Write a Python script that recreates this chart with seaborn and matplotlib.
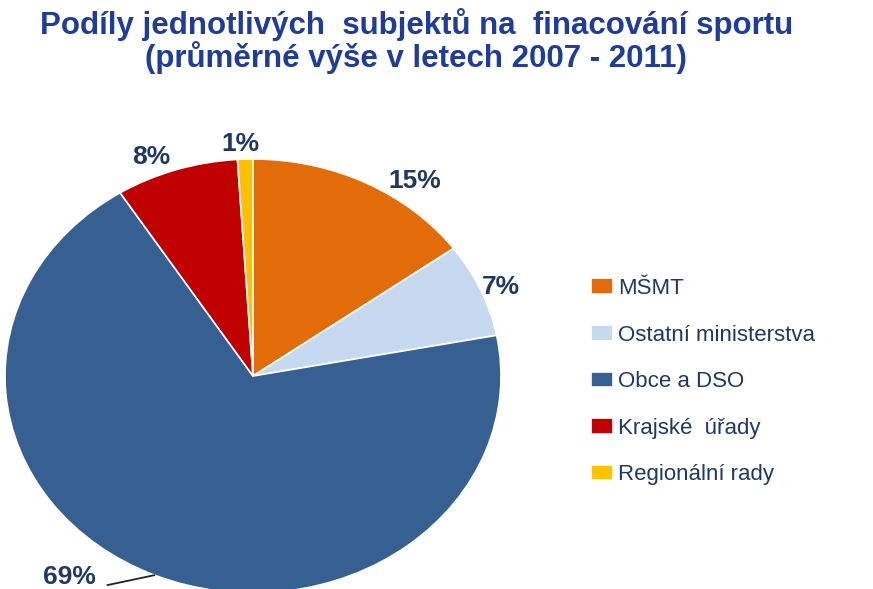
import numpy as np
import matplotlib
matplotlib.use("Agg")
import matplotlib.pyplot as plt
import seaborn as sns

categories = ["MŠMT", "Ostatní ministerstva", "Obce a DSO", "Krajské  úřady", "Regionální rady"]
shares = [15, 7, 69, 8, 1]
pct_labels = ["15%", "7%", "69%", "8%", "1%"]
colors = ["#E36C0A", "#C6D9F1", "#376092", "#C00000", "#FFC000"]

sns.set_style("white")
plt.rcParams["font.family"] = ["Liberation Sans", "DejaVu Sans"]

label_color = "#1F3864"
title_color = "#1F3C99"

fig = plt.figure(figsize=(8.73, 5.89), dpi=100)
# pie is drawn as a slightly flattened ellipse, like the original
ax = fig.add_axes([5 / 873, -4 / 589, 496 / 873, 434 / 589])
wedges, _ = ax.pie(shares, colors=colors, startangle=90, counterclock=False,
                   wedgeprops=dict(edgecolor="white", linewidth=1.2))
ax.set_aspect("auto")
ax.set_xlim(-1, 1)
ax.set_ylim(-1, 1)

# percentage labels outside the slices (angle shift, radial distance)
label_place = {0: (-9, 1.11), 1: (-1, 1.08), 3: (4, 1.09), 4: (1, 1.07)}
for i, (w, txt) in enumerate(zip(wedges, pct_labels)):
    if i == 2:
        mid = np.deg2rad((w.theta1 + w.theta2) / 2)
        ax.annotate(txt, xy=(np.cos(mid), np.sin(mid)),
                    xytext=(-0.74, -0.925), ha="center", va="center",
                    fontsize=19, fontweight="bold", color=label_color,
                    annotation_clip=False,
                    arrowprops=dict(arrowstyle="-", color="#222222", lw=1.3,
                                    shrinkA=6, shrinkB=0,
                                    relpos=(1.0, 0.05)))
    else:
        shift, r = label_place[i]
        mid = np.deg2rad((w.theta1 + w.theta2) / 2 + shift)
        ax.text(r * np.cos(mid), r * np.sin(mid), txt, ha="center", va="center",
                fontsize=19, fontweight="bold", color=label_color)

fig.legend(wedges, categories, loc="upper left",
           bbox_to_anchor=(571 / 873, 1 - 258 / 589), frameon=False,
           fontsize=16, labelcolor=label_color, handlelength=1.0,
           handleheight=0.7, handletextpad=0.2, labelspacing=1.15)

fig.text(0.477, 1 - 25 / 589, "Podíly jednotlivých  subjektů na  finacování sportu",
         ha="center", va="center", fontsize=22.5, fontweight="bold", color=title_color)
fig.text(0.477, 1 - 58 / 589, "(průměrné výše v letech 2007 - 2011)",
         ha="center", va="center", fontsize=22.5, fontweight="bold", color=title_color)

fig.savefig("out.png", dpi=100)
